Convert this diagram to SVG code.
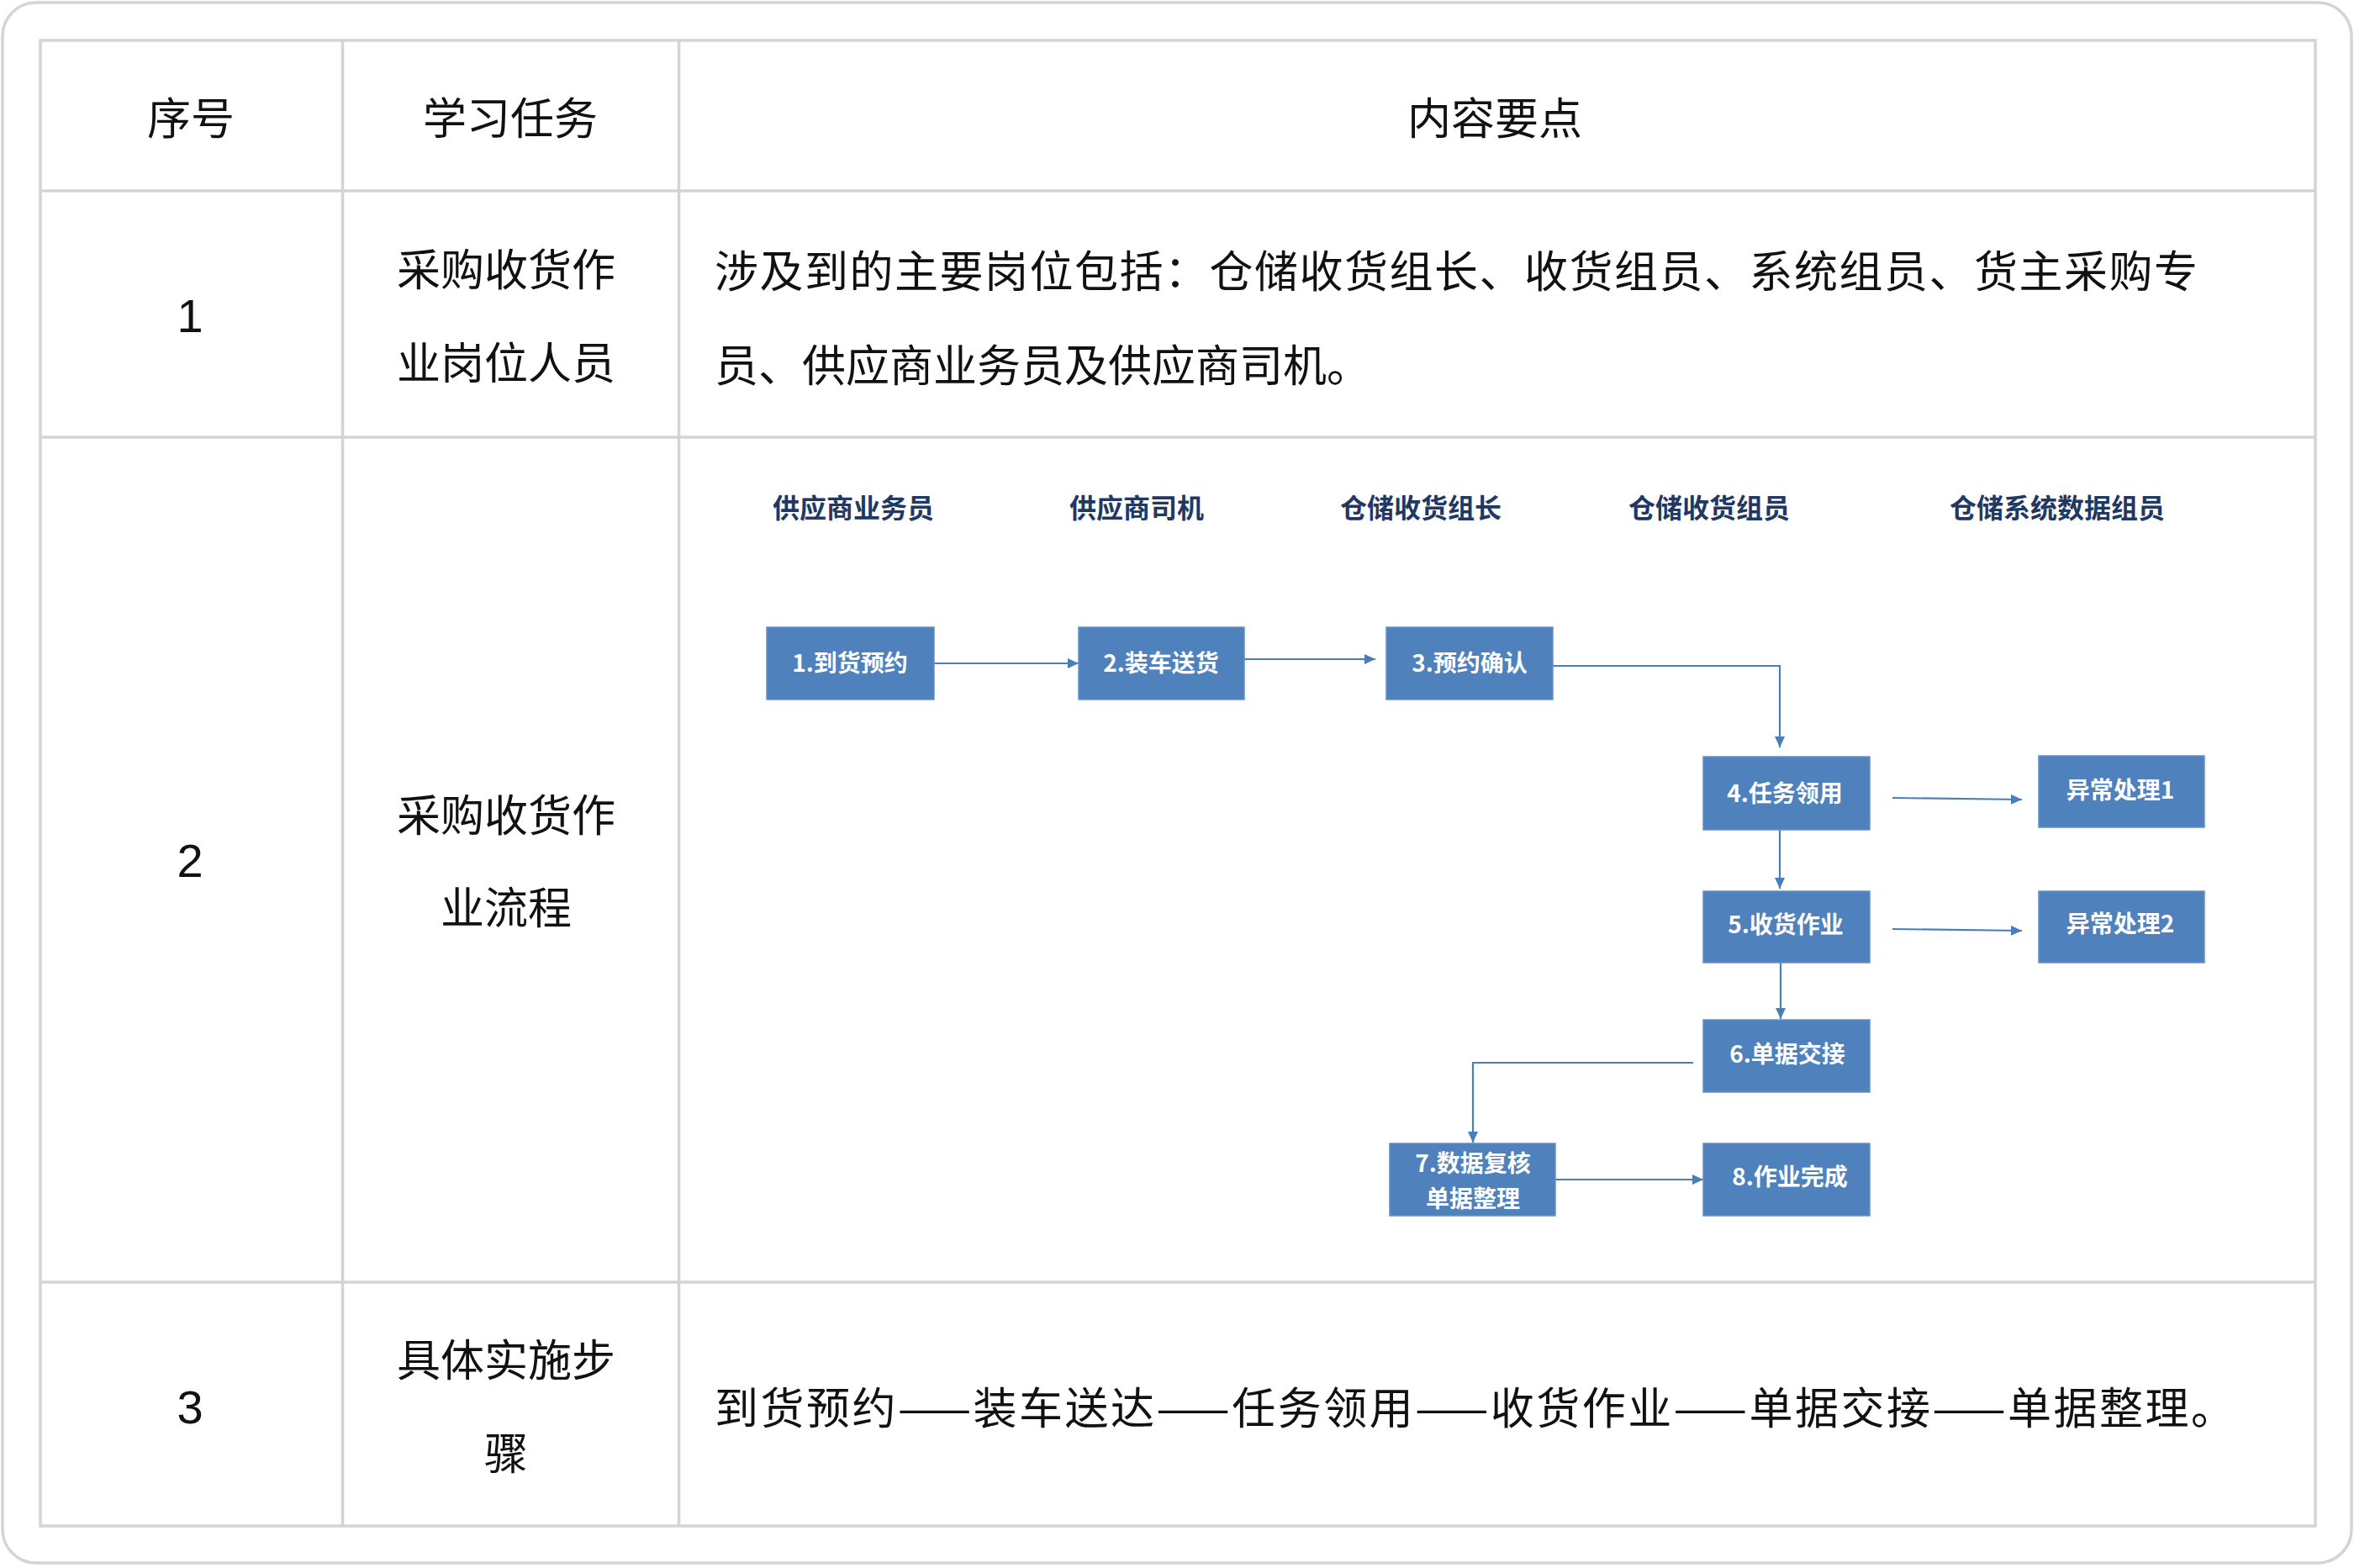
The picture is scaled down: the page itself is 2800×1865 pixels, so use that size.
<svg xmlns="http://www.w3.org/2000/svg" width="2800" height="1865" viewBox="0 0 2800 1865">
<style>
.grid{stroke:#d4d4d4;stroke-width:3.5;fill:none}
.t{font-family:"Noto Sans CJK SC","Liberation Sans",sans-serif;font-size:52px;fill:#111;dominant-baseline:central}
.num{font-family:"Liberation Sans","Noto Sans CJK SC",sans-serif;font-size:56px;fill:#111;dominant-baseline:central;text-anchor:middle}
.c{text-anchor:middle}
.lane{font-family:"Noto Sans CJK SC","Liberation Sans",sans-serif;font-size:32px;font-weight:700;fill:#1f3864;text-anchor:middle;dominant-baseline:central}
.box{fill:#4f81bd;stroke:#6690c8;stroke-width:1.5}
.bt{font-family:"Noto Sans CJK SC","Liberation Sans",sans-serif;font-size:28px;font-weight:700;fill:#ffffff;text-anchor:middle;dominant-baseline:central}
.conn{stroke:#4a7ebb;stroke-width:2.2;fill:none}
</style>
<defs>
<marker id="arr" markerUnits="userSpaceOnUse" markerWidth="14" markerHeight="12" refX="13" refY="6" orient="auto">
<path d="M0,0 L13,6 L0,12 z" fill="#4a7ebb"/>
</marker>
</defs>
<rect x="0" y="0" width="2800" height="1865" fill="#ffffff"/>
<g id="card">
<rect x="3" y="3" width="2794" height="1856" rx="40" ry="40" fill="#ffffff" stroke="#d4d4d4" stroke-width="3.5"/>
</g>
<g id="table">
<rect class="grid" x="48" y="48" width="2706" height="1767"/>
<line class="grid" x1="407.5" y1="48" x2="407.5" y2="1815"/>
<line class="grid" x1="807.5" y1="48" x2="807.5" y2="1815"/>
<line class="grid" x1="48" y1="227" x2="2754" y2="227"/>
<line class="grid" x1="48" y1="520" x2="2754" y2="520"/>
<line class="grid" x1="48" y1="1525" x2="2754" y2="1525"/>
</g>
<g id="header">
<text class="t c" x="227" y="137">序号</text>
<text class="t c" x="607" y="137">学习任务</text>
<text class="t c" x="1778" y="137">内容要点</text>
</g>
<g id="row1">
<text class="num" x="226" y="375">1</text>
<text class="t c" x="602" y="317">采购收货作</text>
<text class="t c" x="602" y="428">业岗位人员</text>
<text class="t" x="850" y="319" textLength="1764" lengthAdjust="spacing">涉及到的主要岗位包括：仓储收货组长、收货组员、系统组员、货主采购专</text>
<text class="t" x="850" y="431">员、供应商业务员及供应商司机。</text>
</g>
<g id="row2">
<text class="num" x="226" y="1023">2</text>
<text class="t c" x="602" y="966">采购收货作</text>
<text class="t c" x="602" y="1076">业流程</text>
</g>
<g id="row3">
<text class="num" x="226" y="1673">3</text>
<text class="t c" x="602" y="1614">具体实施步</text>
<text class="t c" x="602" y="1725">骤</text>
<text class="t" x="850" y="1671" textLength="1808" lengthAdjust="spacing">到货预约——装车送达——任务领用——收货作业——单据交接——单据整理。</text>
</g>
<g id="lanes">
<text class="lane" x="1015" y="602">供应商业务员</text>
<text class="lane" x="1352" y="602">供应商司机</text>
<text class="lane" x="1690" y="602">仓储收货组长</text>
<text class="lane" x="2033" y="602">仓储收货组员</text>
<text class="lane" x="2447" y="602">仓储系统数据组员</text>
</g>
<g id="connectors">
<path class="conn" d="M1111,789 H1283" marker-end="url(#arr)"/>
<path class="conn" d="M1480,784 H1636" marker-end="url(#arr)"/>
<path class="conn" d="M1847,792 H2117 V889" marker-end="url(#arr)"/>
<path class="conn" d="M2251,949 L2405,951" marker-end="url(#arr)"/>
<path class="conn" d="M2117,987 V1057" marker-end="url(#arr)"/>
<path class="conn" d="M2251,1105 L2405,1107" marker-end="url(#arr)"/>
<path class="conn" d="M2118,1145 V1212" marker-end="url(#arr)"/>
<path class="conn" d="M2014,1264 H1752 V1359" marker-end="url(#arr)"/>
<path class="conn" d="M1850,1403 H2026" marker-end="url(#arr)"/>
</g>
<g id="n1"><rect class="box" x="912" y="746" width="199" height="86"/><text class="bt" x="1011" y="787">1.到货预约</text></g>
<g id="n2"><rect class="box" x="1283" y="746" width="197" height="86"/><text class="bt" x="1381" y="787">2.装车送货</text></g>
<g id="n3"><rect class="box" x="1649" y="746" width="198" height="86"/><text class="bt" x="1748" y="787">3.预约确认</text></g>
<g id="n4"><rect class="box" x="2026" y="900" width="198" height="87"/><text class="bt" x="2123" y="942">4.任务领用</text></g>
<g id="e1"><rect class="box" x="2425" y="899" width="197" height="85"/><text class="bt" x="2522" y="938">异常处理1</text></g>
<g id="n5"><rect class="box" x="2026" y="1060" width="198" height="85"/><text class="bt" x="2124" y="1098">5.收货作业</text></g>
<g id="e2"><rect class="box" x="2425" y="1060" width="197" height="85"/><text class="bt" x="2522" y="1097">异常处理2</text></g>
<g id="n6"><rect class="box" x="2026" y="1213" width="198" height="86"/><text class="bt" x="2126" y="1252">6.单据交接</text></g>
<g id="n7"><rect class="box" x="1653" y="1360" width="197" height="86"/><text class="bt" x="1752" y="1382">7.数据复核</text><text class="bt" x="1752" y="1424">单据整理</text></g>
<g id="n8"><rect class="box" x="2026" y="1360" width="198" height="86"/><text class="bt" x="2129" y="1398">8.作业完成</text></g>
</svg>
